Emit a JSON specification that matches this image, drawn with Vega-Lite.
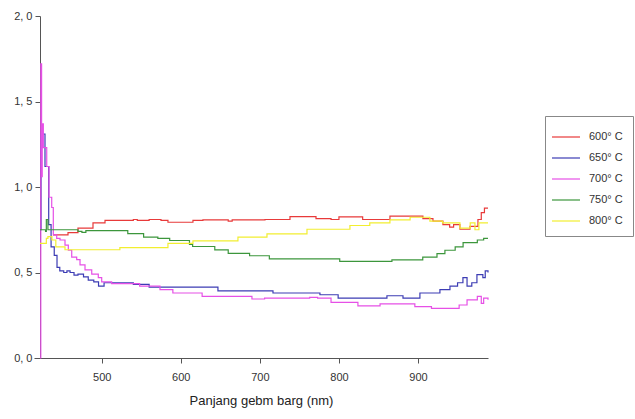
{
  "$schema": "https://vega.github.io/schema/vega-lite/v6.json",
  "autosize": "none",
  "width": 454,
  "height": 342,
  "padding": {"left": 34, "top": 16, "right": 147, "bottom": 61},
  "background": "white",
  "config": {"view": {"stroke": null}, "font": "Liberation Sans"},
  "datasets": {
    "s600": [
      {"x": 438.4, "y": 0.72}, {"x": 457.4, "y": 0.733}, {"x": 470, "y": 0.76}, {"x": 489, "y": 0.79},
      {"x": 504.2, "y": 0.805}, {"x": 540, "y": 0.81}, {"x": 545, "y": 0.805}, {"x": 560, "y": 0.81},
      {"x": 575, "y": 0.805}, {"x": 583.8, "y": 0.794}, {"x": 615.4, "y": 0.805}, {"x": 628, "y": 0.808},
      {"x": 660, "y": 0.8}, {"x": 665, "y": 0.808}, {"x": 706.5, "y": 0.81}, {"x": 738.1, "y": 0.827},
      {"x": 771, "y": 0.815}, {"x": 790, "y": 0.81}, {"x": 800, "y": 0.825}, {"x": 830, "y": 0.81},
      {"x": 864.5, "y": 0.83}, {"x": 906.2, "y": 0.815}, {"x": 918.9, "y": 0.8}, {"x": 931.5, "y": 0.78},
      {"x": 940, "y": 0.765}, {"x": 945, "y": 0.78}, {"x": 953, "y": 0.753}, {"x": 965.7, "y": 0.77},
      {"x": 975.8, "y": 0.81}, {"x": 980, "y": 0.85}, {"x": 984, "y": 0.876}, {"x": 988.5, "y": 0.876}
    ],
    "s650": [
      {"x": 422, "y": 0.75}, {"x": 423.3, "y": 1.31}, {"x": 428.3, "y": 1.12}, {"x": 433, "y": 0.78},
      {"x": 436, "y": 0.65}, {"x": 440, "y": 0.6}, {"x": 443.5, "y": 0.53}, {"x": 447, "y": 0.51},
      {"x": 452, "y": 0.5}, {"x": 456, "y": 0.51}, {"x": 460, "y": 0.5}, {"x": 465, "y": 0.485},
      {"x": 470, "y": 0.49}, {"x": 477, "y": 0.475}, {"x": 483, "y": 0.455}, {"x": 490, "y": 0.445},
      {"x": 496, "y": 0.42}, {"x": 503, "y": 0.44}, {"x": 540, "y": 0.43}, {"x": 560, "y": 0.415},
      {"x": 647, "y": 0.393}, {"x": 716.6, "y": 0.38}, {"x": 776, "y": 0.37}, {"x": 799, "y": 0.35},
      {"x": 860.7, "y": 0.364}, {"x": 881, "y": 0.35}, {"x": 902.4, "y": 0.38}, {"x": 927.7, "y": 0.4},
      {"x": 940.4, "y": 0.42}, {"x": 950, "y": 0.44}, {"x": 956.8, "y": 0.47}, {"x": 962, "y": 0.42},
      {"x": 968, "y": 0.44}, {"x": 974.5, "y": 0.487}, {"x": 982, "y": 0.47}, {"x": 985, "y": 0.51},
      {"x": 988.5, "y": 0.5}
    ],
    "s700": [
      {"x": 422, "y": 0.0}, {"x": 423, "y": 1.72}, {"x": 424, "y": 1.06}, {"x": 424.8, "y": 1.37},
      {"x": 426.2, "y": 1.23}, {"x": 430.5, "y": 1.12}, {"x": 433.4, "y": 0.94}, {"x": 436.8, "y": 0.88},
      {"x": 438.8, "y": 0.72}, {"x": 443.1, "y": 0.7}, {"x": 447.3, "y": 0.69}, {"x": 453.6, "y": 0.66},
      {"x": 457.8, "y": 0.63}, {"x": 462.1, "y": 0.59}, {"x": 468.4, "y": 0.575}, {"x": 472.6, "y": 0.545},
      {"x": 478.9, "y": 0.515}, {"x": 487.4, "y": 0.49}, {"x": 495.7, "y": 0.47}, {"x": 500, "y": 0.445},
      {"x": 512.6, "y": 0.435}, {"x": 548, "y": 0.42}, {"x": 573.7, "y": 0.4}, {"x": 590, "y": 0.38},
      {"x": 627, "y": 0.36}, {"x": 690, "y": 0.345}, {"x": 706, "y": 0.35}, {"x": 763, "y": 0.355},
      {"x": 773, "y": 0.35}, {"x": 790, "y": 0.325}, {"x": 824, "y": 0.305}, {"x": 852, "y": 0.317},
      {"x": 896, "y": 0.3}, {"x": 917, "y": 0.29}, {"x": 952, "y": 0.31}, {"x": 962, "y": 0.34},
      {"x": 975, "y": 0.36}, {"x": 980, "y": 0.32}, {"x": 983, "y": 0.35}, {"x": 988.5, "y": 0.34}
    ],
    "s750": [
      {"x": 422, "y": 0.75}, {"x": 429, "y": 0.74}, {"x": 430, "y": 0.81}, {"x": 432, "y": 0.75},
      {"x": 470, "y": 0.74}, {"x": 475, "y": 0.735}, {"x": 480, "y": 0.745}, {"x": 533, "y": 0.727},
      {"x": 553, "y": 0.707}, {"x": 571, "y": 0.7}, {"x": 586, "y": 0.687}, {"x": 611, "y": 0.665},
      {"x": 615, "y": 0.652}, {"x": 643, "y": 0.632}, {"x": 660, "y": 0.612}, {"x": 687, "y": 0.598},
      {"x": 712, "y": 0.58}, {"x": 801, "y": 0.565}, {"x": 867, "y": 0.574}, {"x": 906, "y": 0.59},
      {"x": 924, "y": 0.61}, {"x": 934, "y": 0.63}, {"x": 947, "y": 0.65}, {"x": 957, "y": 0.675},
      {"x": 975, "y": 0.69}, {"x": 983, "y": 0.7}, {"x": 988.5, "y": 0.7}
    ],
    "s800": [
      {"x": 422, "y": 0.67}, {"x": 430, "y": 0.7}, {"x": 432, "y": 0.71}, {"x": 437, "y": 0.69},
      {"x": 442, "y": 0.65}, {"x": 453.6, "y": 0.633}, {"x": 523, "y": 0.645}, {"x": 583.8, "y": 0.67},
      {"x": 615.4, "y": 0.685}, {"x": 672.3, "y": 0.707}, {"x": 709, "y": 0.726}, {"x": 759.6, "y": 0.753},
      {"x": 813.9, "y": 0.775}, {"x": 839, "y": 0.79}, {"x": 864.5, "y": 0.808}, {"x": 890, "y": 0.823},
      {"x": 915, "y": 0.8}, {"x": 931, "y": 0.79}, {"x": 953, "y": 0.76}, {"x": 966, "y": 0.79},
      {"x": 972, "y": 0.75}, {"x": 977, "y": 0.79}, {"x": 988.5, "y": 0.79}
    ]
  },
  "layer": [
    {"data": {"name": "s600"}, "transform": [{"calculate": "'600° C'", "as": "s"}], "mark": {"type": "line", "interpolate": "step-after", "strokeWidth": 1.2}, "encoding": {}},
    {"data": {"name": "s650"}, "transform": [{"calculate": "'650° C'", "as": "s"}], "mark": {"type": "line", "interpolate": "step-after", "strokeWidth": 1.2}, "encoding": {}},
    {"data": {"name": "s700"}, "transform": [{"calculate": "'700° C'", "as": "s"}], "mark": {"type": "line", "interpolate": "step-after", "strokeWidth": 1.2}, "encoding": {}},
    {"data": {"name": "s750"}, "transform": [{"calculate": "'750° C'", "as": "s"}], "mark": {"type": "line", "interpolate": "step-after", "strokeWidth": 1.2}, "encoding": {}},
    {"data": {"name": "s800"}, "transform": [{"calculate": "'800° C'", "as": "s"}], "mark": {"type": "line", "interpolate": "step-after", "strokeWidth": 1.2}, "encoding": {}}
  ],
  "encoding": {
    "x": {"field": "x", "type": "quantitative", "scale": {"domain": [414.4, 988.5], "nice": false, "zero": false},
      "axis": {"values": [500, 600, 700, 800, 900], "title": "Panjang gebm barg (nm)", "grid": false,
        "domainColor": "#555", "tickColor": "#555", "tickSize": 5, "labelFontSize": 11, "labelColor": "#333",
        "labelPadding": 8, "titleFontSize": 13, "titleFontWeight": "normal", "titleColor": "#222", "titlePadding": 12}},
    "y": {"field": "y", "type": "quantitative", "scale": {"domain": [0, 2], "nice": false},
      "axis": {"values": [0, 0.5, 1, 1.5, 2], "title": null, "grid": false, "offset": -6,
        "labelExpr": "replace(format(datum.value, '.1f'), '.', ', ')",
        "domainColor": "#555", "tickColor": "#555", "tickSize": 5, "labelFontSize": 11, "labelColor": "#333", "labelPadding": 3}},
    "color": {"field": "s", "type": "nominal",
      "scale": {"domain": ["600° C", "650° C", "700° C", "750° C", "800° C"],
        "range": ["#e83a3a", "#3c3cb4", "#e650e6", "#3c963c", "#f2ee30"]},
      "legend": {"title": null, "orient": "none", "legendX": 511, "legendY": 100,
        "symbolType": "M-1.4,0H1.4", "symbolSize": 400, "symbolStrokeWidth": 1.2,
        "labelFontSize": 11, "labelColor": "#333", "rowPadding": 5, "labelOffset": 12,
        "strokeColor": "#888", "padding": 10, "fillColor": "white"}}
  }
}
